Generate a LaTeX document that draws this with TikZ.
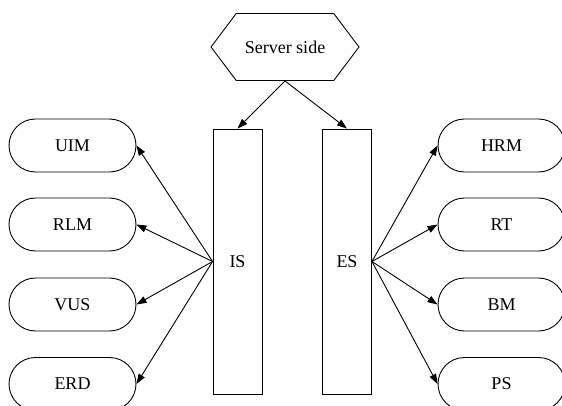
\documentclass[tikz,border=0pt]{standalone}
\usepackage{fontspec}
\setmainfont{Liberation Serif}
\usetikzlibrary{shapes.misc,shapes.symbols,arrows.meta}

\begin{document}
\begin{tikzpicture}[x=1pt,y=1pt,line width=0.9pt,
    every node/.style={draw,font=\fontsize{18}{20}\selectfont,inner sep=0pt},
    module/.style={rounded rectangle,minimum width=127pt,minimum height=53pt},
    sidebox/.style={rectangle,minimum width=49pt,minimum height=265pt},
    serverbox/.style={signal,signal to=west and east,signal pointer angle=106,
                      minimum width=148pt,minimum height=67pt},
    link/.style={-{Triangle[length=10pt,width=7pt]}}]
    \useasboundingbox (0,0) rectangle (562,-406);

    \node[serverbox] (server) at (285,-47) {Server side};

      \node[sidebox] (IS) at (237.5,-261.5) {IS};
        \draw[link] (server.south) -- (IS.north);

      \node[sidebox] (ES) at (347,-261.5) {ES};
        \draw[link] (server.south) -- (ES.north);

      % left side
      \node[module] (UIM) at (72.5,-145.5) {UIM};
        \draw[link] (IS.west) -- (UIM.east);
      \node[module] (RLM) at (72.5,-224.5) {RLM};
        \draw[link] (IS.west) -- (RLM.east);
      \node[module] (VUS) at (72.5,-304.5) {VUS};
        \draw[link] (IS.west) -- (VUS.east);
      \node[module] (ERD) at (72.5,-384) {ERD};
        \draw[link] (IS.west) -- (ERD.east);

      % right side
      \node[module] (HRM) at (501.5,-145.5) {HRM};
        \draw[link] (ES.east) -- (HRM.west);
      \node[module] (RT) at (501.5,-224.5) {RT};
        \draw[link] (ES.east) -- (RT.west);
      \node[module] (BM) at (501.5,-304.5) {BM};
        \draw[link] (ES.east) -- (BM.west);
      \node[module] (PS) at (501.5,-384) {PS};
        \draw[link] (ES.east) -- (PS.west);
\end{tikzpicture}
\end{document}
